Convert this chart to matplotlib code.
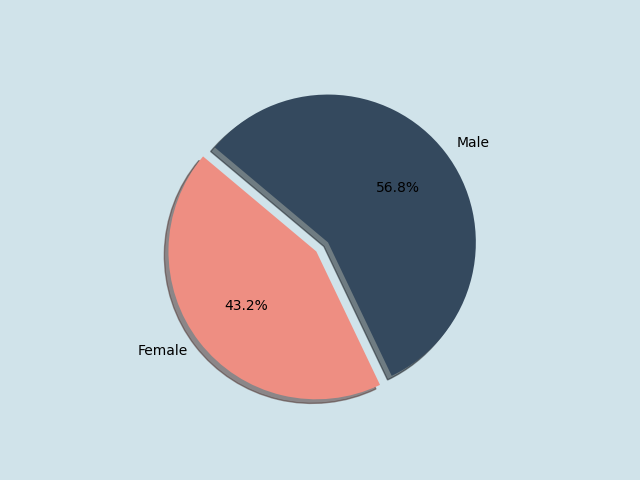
import matplotlib
matplotlib.use("Agg")
import matplotlib.pyplot as plt

# gender split
labels = ["Female", "Male"]
shares = [43.2, 56.8]
colors = ["#ee8e82", "#34495e"]
explode = [0.1, 0]

fig, ax = plt.subplots(figsize=(6.4, 4.8), dpi=100)
fig.patch.set_facecolor("#d0e3ea")
ax.set_facecolor("#d0e3ea")

ax.pie(shares, labels=labels, colors=colors, explode=explode,
       autopct="%1.1f%%", shadow=True, startangle=140)

fig.savefig("out.png", facecolor=fig.get_facecolor())
